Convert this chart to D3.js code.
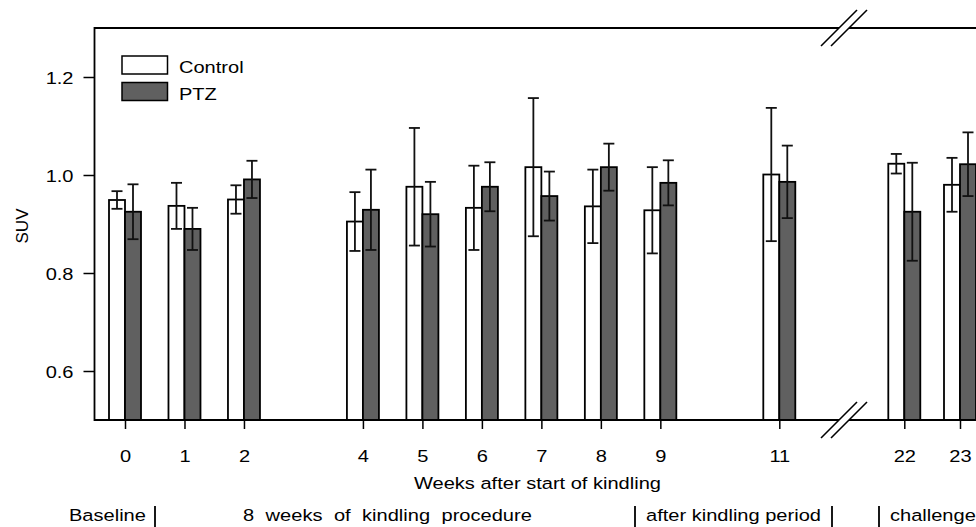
<!DOCTYPE html>
<html>
<head>
<meta charset="utf-8">
<script src="https://cdn.jsdelivr.net/npm/d3@7"></script>
<style>
  html, body { margin: 0; padding: 0; background: #fff; }
  svg { display: block; font-family: "Liberation Sans", Arial, sans-serif; }
</style>
</head>
<body>
<div id="chart"></div>
<script>
// --- Data ---
const weeks = [0, 1, 2, 4, 5, 6, 7, 8, 9, 11, 22, 23];
const controlMean = [0.949, 0.937, 0.950, 0.905, 0.976, 0.933, 1.016, 0.936, 0.928, 1.001, 1.023, 0.980];
const controlErr  = [0.018, 0.047, 0.029, 0.060, 0.120, 0.086, 0.141, 0.075, 0.088, 0.136, 0.020, 0.055];
const ptzMean     = [0.925, 0.890, 0.991, 0.929, 0.920, 0.976, 0.957, 1.016, 0.984, 0.986, 0.925, 1.022];
const ptzErr      = [0.056, 0.043, 0.038, 0.082, 0.066, 0.050, 0.050, 0.048, 0.046, 0.074, 0.100, 0.065];
const yTicks = [0.6, 0.8, 1.0, 1.2];
const seriesNames = ['Control', 'PTZ'];
const phases = [
  { label: 'Baseline', x: 69, sep: 155 },
  { label: '8 weeks of kindling procedure', x: 243, sep: 635, spaced: true },
  { label: 'after kindling period', x: 646, sep: 832 },
  { label: 'challenge', x: 890, sep: 879, sepBefore: true }
];

const width = 976, height = 527;
const SX = 1.18;       // horizontal stretch of the text in the original
const FONT = 17;

const svg = d3.select('#chart').append('svg')
  .attr('width', width)
  .attr('height', height);

// broken x axis: weeks 0-11 evenly spaced, then 22/23 after the break
const x = d3.scaleLinear()
  .domain([0, 11, 22, 23])
  .range([125, 779.3, 904.3, 960]);
const y = d3.scaleLinear().domain([0.5, 1.3]).range([420, 28]);

const left = 94.5, right = 990;
const barW = 16;

function stretchedText(parent, tx, ty, str, anchor) {
  return parent.append('text')
    .attr('transform', `translate(${tx},${ty}) scale(${SX},1)`)
    .attr('text-anchor', anchor || 'start')
    .attr('font-size', FONT)
    .attr('fill', '#000')
    .text(str);
}

// --- Bars ---
const rows = weeks.map((w, i) => ({
  w,
  vals: [
    { s: 0, m: controlMean[i], e: controlErr[i] },
    { s: 1, m: ptzMean[i], e: ptzErr[i] }
  ]
}));

const groups = svg.append('g').selectAll('g')
  .data(rows).enter().append('g');

groups.selectAll('rect')
  .data(d => d.vals.map(v => ({ ...v, w: d.w })))
  .enter().append('rect')
  .attr('x', d => x(d.w) - barW + d.s * barW)
  .attr('y', d => y(d.m))
  .attr('width', barW)
  .attr('height', d => y(0.5) - y(d.m))
  .attr('fill', d => d.s === 0 ? '#fff' : '#606060')
  .attr('stroke', '#000')
  .attr('stroke-width', 1.8);

// error bars
const errG = groups.selectAll('g.err')
  .data(d => d.vals.map(v => ({ ...v, w: d.w })))
  .enter().append('g').attr('class', 'err')
  .attr('stroke', '#111').attr('stroke-width', 1.8);

errG.append('line')
  .attr('x1', d => x(d.w) - barW / 2 + d.s * barW)
  .attr('x2', d => x(d.w) - barW / 2 + d.s * barW)
  .attr('y1', d => y(d.m + d.e))
  .attr('y2', d => y(d.m - d.e));
[1, -1].forEach(sign => {
  errG.append('line')
    .attr('x1', d => x(d.w) - barW / 2 + d.s * barW - 5.5)
    .attr('x2', d => x(d.w) - barW / 2 + d.s * barW + 5.5)
    .attr('y1', d => y(d.m + sign * d.e))
    .attr('y2', d => y(d.m + sign * d.e));
});

// --- Frame ---
svg.append('path')
  .attr('d', `M${right},${y(1.3)}H${left}V${y(0.5)}H${right}`)
  .attr('fill', 'none')
  .attr('stroke', '#000')
  .attr('stroke-width', 1.8);

// --- Axes ---
const yAxis = svg.append('g')
  .attr('transform', `translate(${left},0)`)
  .call(d3.axisLeft(y).tickValues(yTicks).tickSize(11).tickSizeOuter(0).tickFormat(d3.format('.1f')));
yAxis.select('.domain').remove();
yAxis.selectAll('line').attr('stroke-width', 1.5);
yAxis.selectAll('text')
  .attr('font-size', FONT)
  .attr('font-family', null)
  .attr('x', -21 / SX)
  .attr('dy', 6)
  .attr('transform', `scale(${SX},1)`);

const xAxis = svg.append('g')
  .attr('transform', `translate(0,${y(0.5)})`)
  .call(d3.axisBottom(x).tickValues(weeks).tickSize(9).tickSizeOuter(0).tickFormat(d3.format('d')));
xAxis.select('.domain').remove();
xAxis.selectAll('line').attr('stroke-width', 1.5);
xAxis.selectAll('text')
  .attr('font-size', FONT)
  .attr('font-family', null)
  .attr('y', 41.7)
  .attr('dy', 0)
  .attr('transform', `scale(${SX},1)`);

// --- Axis breaks ---
[y(1.3), y(0.5)].forEach(by => {
  const bx = 839;
  svg.append('polygon')
    .attr('points', `${bx - 8},${by + 8} ${bx + 18},${by - 18} ${bx + 28},${by - 18} ${bx + 2},${by + 8}`)
    .attr('fill', '#fff');
  [0, 10].forEach(off => {
    svg.append('line')
      .attr('x1', bx + off - 18).attr('y1', by + 18)
      .attr('x2', bx + off + 18).attr('y2', by - 18)
      .attr('stroke', '#000').attr('stroke-width', 1.6);
  });
});

// --- Labels ---
svg.append('text')
  .attr('transform', 'translate(28,226) rotate(-90)')
  .attr('text-anchor', 'middle')
  .attr('font-size', FONT)
  .text('SUV');

stretchedText(svg, 414, 489.3, 'Weeks after start of kindling');

phases.forEach(p => {
  const t = stretchedText(svg, p.x, 521, p.label);
  if (p.spaced) t.attr('word-spacing', 5);
  svg.append('line')
    .attr('x1', p.sep).attr('x2', p.sep)
    .attr('y1', 506).attr('y2', 527)
    .attr('stroke', '#000').attr('stroke-width', 1.8);
});

// --- Legend ---
const legend = svg.append('g');
seriesNames.forEach((name, i) => {
  const ly = 56 + i * 26.5;
  legend.append('rect')
    .attr('x', 122).attr('y', ly)
    .attr('width', 45.5).attr('height', 18)
    .attr('fill', i === 0 ? '#fff' : '#606060')
    .attr('stroke', '#000').attr('stroke-width', 1.5);
  stretchedText(legend, 179, ly + 17.3, name);
});
</script>
</body>
</html>
